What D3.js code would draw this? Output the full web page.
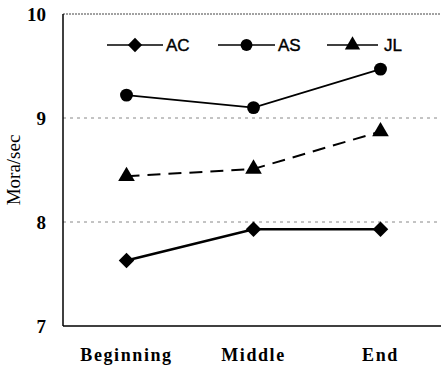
<!DOCTYPE html>
<html>
<head>
<meta charset="utf-8">
<script src="https://cdn.jsdelivr.net/npm/d3@7"></script>
<style>
  body { margin: 0; background: #fff; }
  svg { display: block; }
</style>
</head>
<body>
<div id="chart"></div>
<script>
// Data
const positions = ["Beginning", "Middle", "End"];
const acValues = [7.63, 7.93, 7.93];
const asValues = [9.22, 9.10, 9.47];
const jlValues = [8.44, 8.51, 8.87];
const yTicks = [7, 8, 9, 10];

const width = 441, height = 366;
const margin = { top: 14, right: -3, bottom: 40, left: 63 };

const svg = d3.select("#chart")
    .append("svg")
    .attr("width", width)
    .attr("height", height);

const x = d3.scalePoint()
    .domain(positions)
    .range([margin.left, width - margin.right])
    .padding(0.5);

const y = d3.scaleLinear()
    .domain([7, 10])
    .range([height - margin.bottom, margin.top]);

// gridlines (dotted)
svg.selectAll(".grid")
    .data([8, 9])
    .enter()
    .append("line")
    .attr("x1", margin.left)
    .attr("x2", width)
    .attr("y1", d => y(d))
    .attr("y2", d => y(d))
    .attr("stroke", "#888")
    .attr("stroke-width", 1)
    .attr("stroke-dasharray", "3,4");

// top border
svg.append("line")
    .attr("x1", margin.left)
    .attr("x2", width)
    .attr("y1", y(10))
    .attr("y2", y(10))
    .attr("stroke", "#444")
    .attr("stroke-width", 1)
    .attr("stroke-dasharray", "2,1");

// axes lines
svg.append("line")
    .attr("x1", margin.left).attr("x2", margin.left)
    .attr("y1", y(10)).attr("y2", y(7))
    .attr("stroke", "#000").attr("stroke-width", 1.5);
svg.append("line")
    .attr("x1", margin.left).attr("x2", width)
    .attr("y1", y(7)).attr("y2", y(7))
    .attr("stroke", "#000").attr("stroke-width", 1.5);

// y tick labels
svg.selectAll(".ytick")
    .data(yTicks)
    .enter()
    .append("text")
    .attr("x", 46)
    .attr("y", d => y(d) + 7)
    .attr("text-anchor", "end")
    .style("font-family", "'Liberation Serif', serif")
    .style("font-weight", "bold")
    .style("font-size", "19px")
    .text(d => d);

// x labels
svg.selectAll(".xtick")
    .data(positions)
    .enter()
    .append("text")
    .attr("x", d => x(d))
    .attr("y", 361)
    .attr("text-anchor", "middle")
    .style("font-family", "'Liberation Serif', serif")
    .style("font-weight", "bold")
    .style("font-size", "18px")
    .style("letter-spacing", "1.6px")
    .text(d => d);

// y title
svg.append("text")
    .attr("transform", `translate(20, ${y(8.5)}) rotate(-90)`)
    .attr("text-anchor", "middle")
    .style("font-family", "'Liberation Serif', serif")
    .style("font-size", "19px")
    .text("Mora/sec");

const line = d3.line()
    .x((d, i) => x(positions[i]))
    .y(d => y(d));

const series = [
    { name: "AC", values: acValues, width: 2.6, dash: null, shape: d3.symbolSquare, rot: 45, size: 120 },
    { name: "AS", values: asValues, width: 1.6, dash: null, shape: d3.symbolCircle, rot: 0, size: 130 },
    { name: "JL", values: jlValues, width: 2, dash: "13,8", shape: d3.symbolTriangle, rot: 0, size: 120 }
];

series.forEach(s => {
    svg.append("path")
        .datum(s.values)
        .attr("d", line)
        .attr("fill", "none")
        .attr("stroke", "#000")
        .attr("stroke-width", s.width)
        .attr("stroke-dasharray", s.dash);

    svg.selectAll(".m-" + s.name)
        .data(s.values)
        .enter()
        .append("path")
        .attr("d", d3.symbol().type(s.shape).size(s.size))
        .attr("transform", (d, i) => `translate(${x(positions[i])},${y(d)}) rotate(${s.rot})`)
        .attr("fill", "#000");
});

// legend
const legendItems = [
    { s: series[0], x1: 107, x2: 163, tx: 166 },
    { s: series[1], x1: 218, x2: 275, tx: 278 },
    { s: series[2], x1: 327, x2: 378, tx: 384 }
];
const ly = 45;
legendItems.forEach(l => {
    svg.append("line")
        .attr("x1", l.x1).attr("x2", l.x2)
        .attr("y1", ly).attr("y2", ly)
        .attr("stroke", "#000").attr("stroke-width", 1.4);
    svg.append("path")
        .attr("d", d3.symbol().type(l.s.shape).size(l.s.size * 0.85))
        .attr("transform", `translate(${(l.x1 + l.x2) / 2},${ly}) rotate(${l.s.rot})`)
        .attr("fill", "#000");
    svg.append("text")
        .attr("x", l.tx)
        .attr("y", ly + 6)
        .style("font-family", "'Liberation Sans', Arial, sans-serif")
        .style("font-size", "17px")
        .style("stroke", "#000")
        .style("stroke-width", 0.4)
        .text(l.s.name);
});
</script>
</body>
</html>
